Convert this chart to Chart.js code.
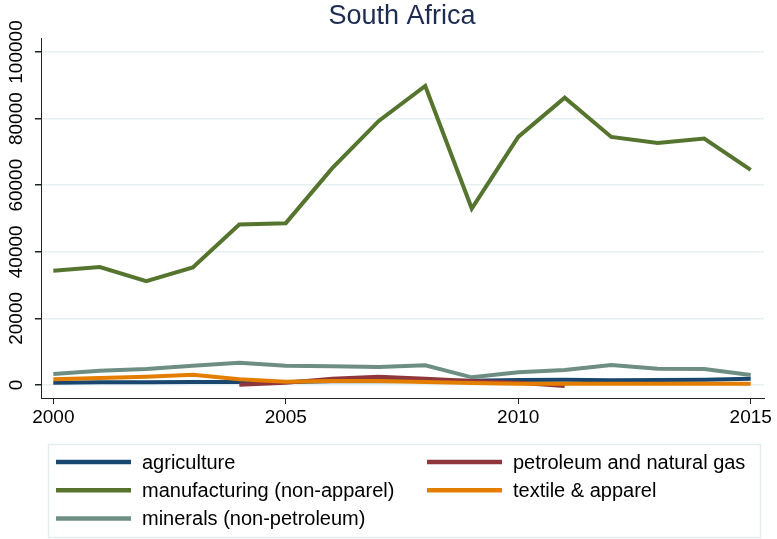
<!DOCTYPE html>
<html>
<head>
<meta charset="utf-8">
<script src="https://cdn.jsdelivr.net/npm/chart.js@4/dist/chart.umd.min.js"></script>
<style>
  html, body { margin: 0; padding: 0; background: #ffffff; }
  #wrap { position: relative; width: 777px; height: 539px; }
</style>
</head>
<body>
<div id="wrap"><canvas id="chart" width="777" height="539"></canvas></div>
<script>
(function() {
  "use strict";

  // ===== Data =====
  var years = [2000, 2001, 2002, 2003, 2004, 2005, 2006, 2007, 2008, 2009, 2010, 2011, 2012, 2013, 2014, 2015];
  var agriculture = [700, 800, 800, 900, 900, 900, 1100, 1100, 1200, 1300, 1500, 1600, 1400, 1500, 1600, 1900];
  var petroleum = [null, null, null, null, 100, 700, 1900, 2500, 1900, 1200, 700, -300, null, null, null, null];
  var manufacturing = [34300, 35400, 31200, 35300, 48200, 48600, 65100, 79300, 89800, 53000, 74500, 86300, 74500, 72700, 74000, 64600];
  var textile = [1700, 2100, 2500, 3100, 1700, 1000, 1200, 1200, 900, 600, 400, 400, 400, 400, 400, 400];
  var minerals = [3300, 4300, 4800, 5800, 6700, 5800, 5600, 5400, 5900, 2300, 3800, 4500, 6000, 4900, 4800, 3000];

  var xTicks = [2000, 2005, 2010, 2015];
  var yTicks = [0, 20000, 40000, 60000, 80000, 100000];
  var titleText = "South Africa";

  // legend order, two columns filled row by row
  var series = [
    { label: "agriculture", values: agriculture, color: "#1a476f" },
    { label: "petroleum and natural gas", values: petroleum, color: "#90353b" },
    { label: "manufacturing (non-apparel)", values: manufacturing, color: "#55752f" },
    { label: "textile & apparel", values: textile, color: "#e37e00" },
    { label: "minerals (non-petroleum)", values: minerals, color: "#6e8e84" }
  ];

  var FONT = "'Liberation Sans', Arial, sans-serif";

  function points(values) {
    var out = [];
    for (var i = 0; i < years.length; i++) {
      out.push({ x: years[i], y: values[i] });
    }
    return out;
  }

  var datasets = series.map(function(s, i) {
    return {
      label: s.label,
      data: points(s.values),
      borderColor: s.color,
      backgroundColor: s.color,
      borderWidth: 4,
      pointRadius: 0,
      tension: 0,
      fill: false,
      spanGaps: false,
      // later series are drawn over earlier ones
      order: series.length - i
    };
  });

  // ===== Title, rotated y labels and boxed legend =====
  var decorPlugin = {
    id: "decor",
    afterDraw: function(chart) {
      var ctx = chart.ctx;
      var yScale = chart.scales.y;
      ctx.save();

      ctx.fillStyle = "#1e2c52";
      ctx.font = "27px " + FONT;
      ctx.textAlign = "center";
      ctx.textBaseline = "middle";
      ctx.fillText(titleText, 402, 17);

      ctx.fillStyle = "#000000";
      ctx.font = "19px " + FONT;
      yTicks.forEach(function(v) {
        var py = yScale.getPixelForValue(v);
        ctx.save();
        ctx.translate(17, py);
        ctx.rotate(-Math.PI / 2);
        ctx.textAlign = "center";
        ctx.textBaseline = "middle";
        ctx.fillText(String(v), 0, 0);
        ctx.restore();
      });

      // legend box
      ctx.strokeStyle = "#e4ecee";
      ctx.lineWidth = 1.5;
      ctx.strokeRect(48.5, 444.5, 712, 93);

      ctx.font = "20px " + FONT;
      ctx.textAlign = "left";
      ctx.textBaseline = "middle";
      series.forEach(function(s, i) {
        var col = i % 2;
        var row = Math.floor(i / 2);
        var sx = col === 0 ? 56 : 427;
        var ly = 462 + row * 28.3;
        ctx.strokeStyle = s.color;
        ctx.lineWidth = 4.5;
        ctx.beginPath();
        ctx.moveTo(sx, ly);
        ctx.lineTo(sx + 75, ly);
        ctx.stroke();
        ctx.fillStyle = "#000000";
        ctx.fillText(s.label, sx + 86, ly + 1);
      });

      ctx.restore();
    }
  };

  new Chart(document.getElementById("chart"), {
    type: "line",
    data: { datasets: datasets },
    plugins: [decorPlugin],
    options: {
      responsive: false,
      animation: false,
      events: [],
      layout: { padding: { top: 38, right: 13, left: 0, bottom: 0 } },
      plugins: {
        legend: { display: false },
        title: { display: false },
        tooltip: { enabled: false }
      },
      scales: {
        x: {
          type: "linear",
          min: 1999.735,
          max: 2015.286,
          afterBuildTicks: function(scale) {
            scale.ticks = xTicks.map(function(v) { return { value: v }; });
          },
          afterFit: function(scale) { scale.height = 141; },
          ticks: {
            color: "#000000",
            font: { size: 19, family: FONT },
            padding: 2,
            maxRotation: 0,
            autoSkip: false,
            callback: function(v) { return String(v); }
          },
          grid: {
            drawOnChartArea: false,
            drawTicks: true,
            tickLength: 6,
            tickColor: "#222222",
            color: "#222222"
          },
          border: { display: true, color: "#222222", width: 1 }
        },
        y: {
          type: "linear",
          min: -3904,
          max: 104204,
          afterBuildTicks: function(scale) {
            scale.ticks = yTicks.map(function(v) { return { value: v }; });
          },
          afterFit: function(scale) { scale.width = 41; },
          ticks: { display: false },
          grid: {
            color: "#e6eff1",
            lineWidth: 1.5,
            drawTicks: true,
            tickLength: 6,
            tickColor: "#222222"
          },
          border: { display: true, color: "#222222", width: 1 }
        }
      }
    }
  });
})();
</script>
</body>
</html>
